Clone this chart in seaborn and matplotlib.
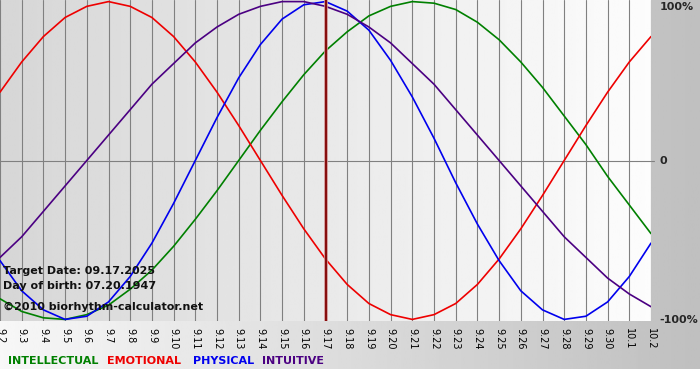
import numpy as np
import pandas as pd
import seaborn as sns
import matplotlib.pyplot as plt

# day labels along the bottom (Sep 2 .. Oct 2)
days = ['9.2', '9.3', '9.4', '9.5', '9.6', '9.7', '9.8', '9.9', '9.10', '9.11',
        '9.12', '9.13', '9.14', '9.15', '9.16', '9.17', '9.18', '9.19', '9.20',
        '9.21', '9.22', '9.23', '9.24', '9.25', '9.26', '9.27', '9.28', '9.29',
        '9.30', '10.1', '10.2']
target_day = '9.17'

# daily cycle values (-1 .. 1)
intellectual = [-0.87, -0.95, -0.99, -1.00, -0.97, -0.91, -0.81, -0.69, -0.54, -0.37,
                -0.19, 0.00, 0.19, 0.37, 0.54, 0.69, 0.81, 0.91, 0.97, 1.00,
                0.99, 0.95, 0.87, 0.76, 0.62, 0.46, 0.28, 0.10, -0.10, -0.28, -0.46]
emotional = [0.43, 0.62, 0.78, 0.90, 0.97, 1.00, 0.97, 0.90, 0.78, 0.62,
             0.43, 0.22, 0.00, -0.22, -0.43, -0.62, -0.78, -0.90, -0.97, -1.00,
             -0.97, -0.90, -0.78, -0.62, -0.43, -0.22, 0.00, 0.22, 0.43, 0.62, 0.78]
physical = [-0.63, -0.82, -0.94, -1.00, -0.98, -0.89, -0.73, -0.52, -0.27, 0.00,
            0.27, 0.52, 0.73, 0.89, 0.98, 1.00, 0.94, 0.82, 0.63, 0.40,
            0.14, -0.14, -0.40, -0.63, -0.82, -0.94, -1.00, -0.98, -0.89, -0.73, -0.52]
intuitive = [-0.61, -0.48, -0.32, -0.16, 0.00, 0.16, 0.32, 0.48, 0.61, 0.74,
             0.84, 0.92, 0.97, 1.00, 1.00, 0.97, 0.92, 0.84, 0.74, 0.61,
             0.48, 0.32, 0.16, 0.00, -0.16, -0.32, -0.48, -0.61, -0.74, -0.84, -0.92]

colors = {'INTELLECTUAL': '#008000', 'EMOTIONAL': '#ee0000',
          'PHYSICAL': '#0000ee', 'INTUITIVE': '#4b0082'}

pos = list(range(len(days)))
df = pd.concat([
    pd.DataFrame({'pos': pos, 'value': intellectual, 'series': 'INTELLECTUAL'}),
    pd.DataFrame({'pos': pos, 'value': emotional, 'series': 'EMOTIONAL'}),
    pd.DataFrame({'pos': pos, 'value': physical, 'series': 'PHYSICAL'}),
    pd.DataFrame({'pos': pos, 'value': intuitive, 'series': 'INTUITIVE'}),
])

sns.set_style('white')
plt.rcParams['font.family'] = ['DejaVu Sans']

W, H = 700, 380
fig = plt.figure(figsize=(7, 3.8), dpi=100, facecolor='white')

# outer gradient frame (light left -> gray right), white strip at bottom
bg = fig.add_axes([0, 0, 1, 1])
bg.imshow(np.linspace(0.97, 0.75, 256)[None, :], cmap='gray', vmin=0, vmax=1,
          extent=[0, 1, 11 / H, 1], aspect='auto')
bg.set_xlim(0, 1)
bg.set_ylim(0, 1)
bg.axis('off')

ax = fig.add_axes([0, 1 - 321 / H, 651 / W, 321 / H])
n = len(days) - 1
ax.imshow(np.linspace(0.84, 0.99, 256)[None, :], cmap='gray', vmin=0, vmax=1,
          extent=[0, n, -1.01, 1.01], aspect='auto', zorder=0)

sns.lineplot(data=df, x='pos', y='value', hue='series', palette=colors,
             legend=False, linewidth=1.2, ax=ax, sort=False, zorder=3)
for ln in ax.get_lines():
    ln.set_solid_joinstyle('round')

ax.axhline(0, color='#808080', lw=0.8, zorder=1)
ax.plot([n, n + 0.12], [0, 0], color='#808080', lw=0.8, clip_on=False)
t = days.index(target_day)
ax.axvline(t, color='#d09090', lw=2.6, zorder=4)
ax.axvline(t, color='#800000', lw=1.3, zorder=5)

ax.set_xlim(0, n)
ax.set_ylim(-1.01, 1.01)
ax.set_xticks(pos)
ax.set_xticklabels(days, rotation=-90, fontsize=7, color='black')
ax.tick_params(axis='x', length=3, color='#808080', width=0.8, pad=2)
ax.grid(axis='x', color='#808080', lw=0.8, zorder=1)
ax.set_axisbelow(False)
ax.set_xlabel('')
ax.set_ylabel('')

ax.yaxis.tick_right()
ax.set_yticks([-1, 0, 1])
ax.set_yticklabels(['-100%', '0', '100%'], fontsize=8, fontweight='bold')
ax.get_yticklabels()[2].set_va('top')
ax.tick_params(axis='y', length=0, pad=6)
for s in ax.spines.values():
    s.set_visible(False)

# info text inside plot
for txt, y in [('Target Date: 09.17.2025', 271), ('Day of birth: 07.20.1947', 286),
               ('\u00a92010 biorhythm-calculator.net', 307)]:
    fig.text(3 / W, 1 - y / H, txt, fontsize=8, fontweight='bold',
             color='#111111', va='center', ha='left', zorder=10)

# colored legend row
for name, x in [('INTELLECTUAL', 8), ('EMOTIONAL', 107), ('PHYSICAL', 193),
                ('INTUITIVE', 262)]:
    fig.text(x / W, 1 - 361 / H, name, fontsize=8, fontweight='bold',
             color=colors[name], va='center', ha='left')

fig.savefig('out.png', dpi=100)
